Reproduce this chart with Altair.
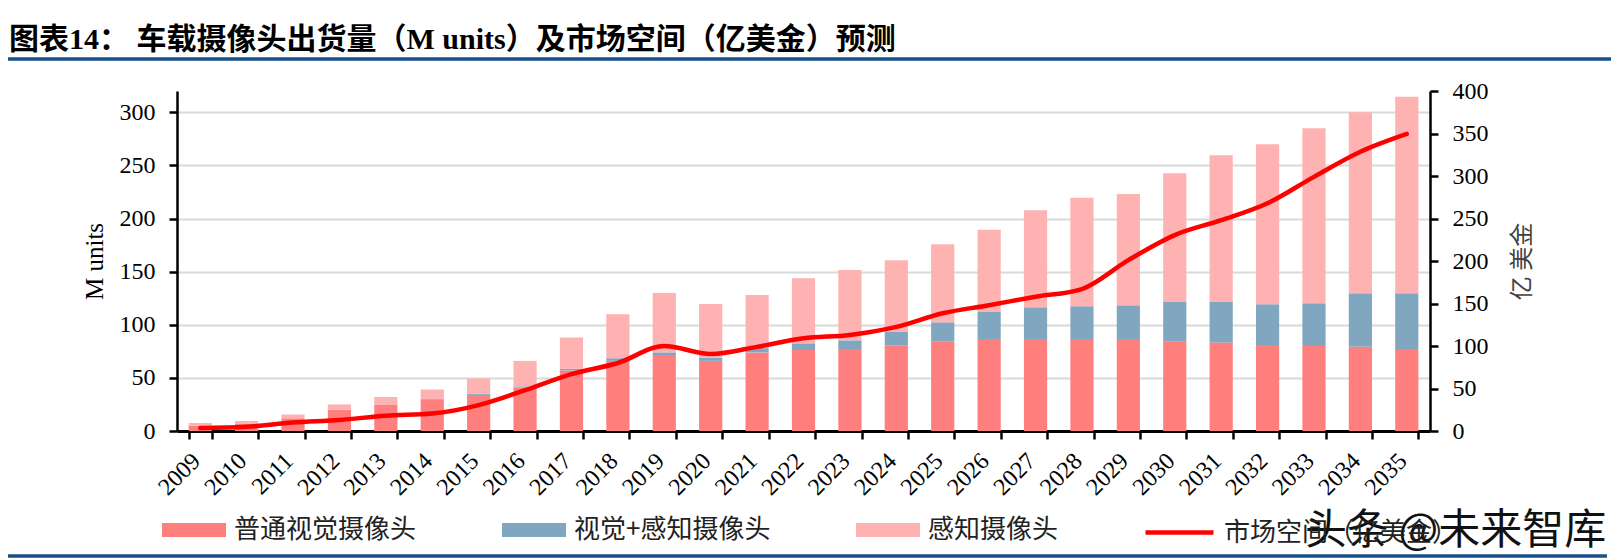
import altair as alt
import pandas as pd

years = [str(y) for y in range(2009, 2036)]

# 普通视觉摄像头 (M units)
vision = [5, 7, 12, 20, 24.5, 30, 34, 41, 57, 66, 71.5, 66, 74, 76.2, 77.2, 80.3, 84.4, 85.7, 85.7, 85.7, 85.7, 84.4, 83.2, 81, 80, 79.4, 77.2]
# 视觉+感知摄像头 (M units)
fusion = [0, 0, 0, 0, 0, 0, 1, 1, 1.5, 2.5, 2.5, 3, 4, 6.3, 8.1, 12.9, 17.9, 26.3, 30.7, 31.7, 32.6, 37, 38.2, 38.2, 40.2, 50.2, 52.4]
# 感知摄像头 (M units)
sensing = [2.5, 2.5, 3.5, 5, 7.5, 9, 14.5, 24, 29.5, 41.5, 56, 50.5, 50, 61.2, 66.3, 67.5, 73.4, 77.5, 91.3, 102.2, 104.7, 121.1, 138.1, 150.6, 164.7, 170.4, 185.1]
# 市场空间（亿美金）
market = [3.5, 5, 10, 13, 18, 20.5, 30.5, 48, 67, 80, 100, 90.5, 99, 109, 113, 122.5, 138.5, 148, 158, 167, 201, 230.5, 248, 268, 299, 328.5, 349.5]

series_names = ["普通视觉摄像头", "视觉+感知摄像头", "感知摄像头"]
series_colors = ["#ff7f7f", "#81a6bf", "#ffb2b2"]
line_name = "市场空间（亿美金）"
left_ticks = [0, 50, 100, 150, 200, 250, 300]
right_ticks = [0, 50, 100, 150, 200, 250, 300, 350, 400]
title_text = "图表14：    车载摄像头出货量（M units）及市场空间（亿美金）预测"
watermark_text = "头条 @未来智库"

rows = []
for i, y in enumerate(years):
    for k, vals in enumerate([vision, fusion, sensing]):
        rows.append({"year": y, "type": series_names[k], "value": vals[i], "order": k})
bar_df = pd.DataFrame(rows)
line_df = pd.DataFrame({"year": years, "market": market, "series": [line_name] * len(years)})

SERIF = "Liberation Serif, Noto Sans CJK SC"
CJK = "Noto Sans CJK SC"

x_enc = alt.X(
    "year:N",
    sort=years,
    title=None,
    scale=alt.Scale(paddingInner=0.5, paddingOuter=0.25),
    axis=alt.Axis(
        labelAngle=-45,
        labelAlign="right",
        labelBaseline="middle",
        labelPadding=18,
        labelOffset=-4,
        labelFont=SERIF,
        labelFontSize=24,
        labelColor="black",
        tickBand="extent",
        tickSize=8,
        tickWidth=2.5,
        tickColor="black",
        domainColor="black",
        domainWidth=3,
        grid=False,
    ),
)

bars = alt.Chart(bar_df).mark_bar().encode(
    x=x_enc,
    y=alt.Y(
        "value:Q",
        stack="zero",
        scale=alt.Scale(domain=[0, 320], nice=False),
        axis=alt.Axis(
            values=left_ticks,
            title="M units",
            titleFont="Liberation Serif",
            titleFontSize=25,
            titleFontWeight="normal",
            titleColor="black",
            titlePadding=12,
            labelFont=SERIF,
            labelFontSize=24,
            labelColor="black",
            labelPadding=14,
            tickSize=8,
            tickWidth=2.5,
            tickColor="black",
            domainColor="black",
            domainWidth=2.5,
            grid=True,
            gridColor="#d9d9d9",
            gridWidth=2,
        ),
    ),
    color=alt.Color(
        "type:N",
        scale=alt.Scale(domain=series_names, range=series_colors),
        legend=alt.Legend(
            title=None,
            orient="none",
            legendX=-15,
            legendY=407,
            direction="horizontal",
            symbolType="M-1,-0.22H1V0.22H-1Z",
            symbolSize=4096,
            symbolStrokeWidth=0,
            symbolOpacity=1,
            labelFont=CJK,
            labelFontSize=26,
            labelColor="#222222",
            labelOffset=8,
            labelLimit=500,
            columnPadding=85,
        ),
    ),
    order=alt.Order("order:Q"),
)

line = alt.Chart(line_df).mark_line(interpolate="monotone", strokeWidth=4.5, strokeCap="round").encode(
    x=x_enc,
    y=alt.Y(
        "market:Q",
        scale=alt.Scale(domain=[0, 400], nice=False),
        axis=alt.Axis(
            orient="right",
            values=right_ticks,
            title="亿 美金",
            titleFont=CJK,
            titleFontSize=24,
            titleFontWeight="normal",
            titleColor="#404040",
            titleAngle=270,
            titlePadding=46,
            labelFont=SERIF,
            labelFontSize=24,
            labelColor="black",
            labelPadding=14,
            tickSize=8,
            tickWidth=2.5,
            tickColor="black",
            domainColor="black",
            domainWidth=2.5,
            grid=False,
        ),
    ),
    stroke=alt.Stroke(
        "series:N",
        scale=alt.Scale(domain=[line_name], range=["#ff0000"]),
        legend=alt.Legend(
            title=None,
            orient="none",
            legendX=966,
            legendY=405,
            direction="horizontal",
            symbolType="stroke",
            symbolSize=4624,
            symbolStrokeWidth=4.5,
            labelFont=CJK,
            labelFontSize=26,
            labelColor="#222222",
            labelOffset=8,
            labelLimit=500,
        ),
    ),
)

one = alt.Data(values=[{"t": watermark_text, "title": title_text}])

title_mark = alt.Chart(one).mark_text(
    align="left", baseline="middle", font=SERIF, fontSize=30, fontWeight="bold", color="black"
).encode(text="title:N", x=alt.value(-168), y=alt.value(-51))
top_rule = alt.Chart(one).mark_rule(color="#17508a", strokeWidth=3.5).encode(
    x=alt.value(-169), x2=alt.value(1434), y=alt.value(-32)
)
bottom_rule = alt.Chart(one).mark_rule(color="#17508a", strokeWidth=3.5).encode(
    x=alt.value(-169), x2=alt.value(1430), y=alt.value(465)
)
wm_halo = alt.Chart(one).mark_text(
    align="left", baseline="middle", font=CJK, fontSize=42, color="white", stroke="white", strokeWidth=6
).encode(text="t:N", x=alt.value(1128), y=alt.value(440))
wm = alt.Chart(one).mark_text(
    align="left", baseline="middle", font=CJK, fontSize=42, color="#111111"
).encode(text="t:N", x=alt.value(1128), y=alt.value(440))

chart = (
    alt.layer(bars, line, title_mark, top_rule, bottom_rule, wm_halo, wm)
    .resolve_scale(y="independent", color="independent", stroke="independent")
    .properties(
        width=1253,
        height=340,
        padding={"left": 169, "top": 83, "right": 181, "bottom": 128},
        autosize=alt.AutoSizeParams(type="none"),
        background="white",
    )
    .configure_view(stroke=None)
)

chart.save("out.html", embed_options={"renderer": "svg", "actions": False})
